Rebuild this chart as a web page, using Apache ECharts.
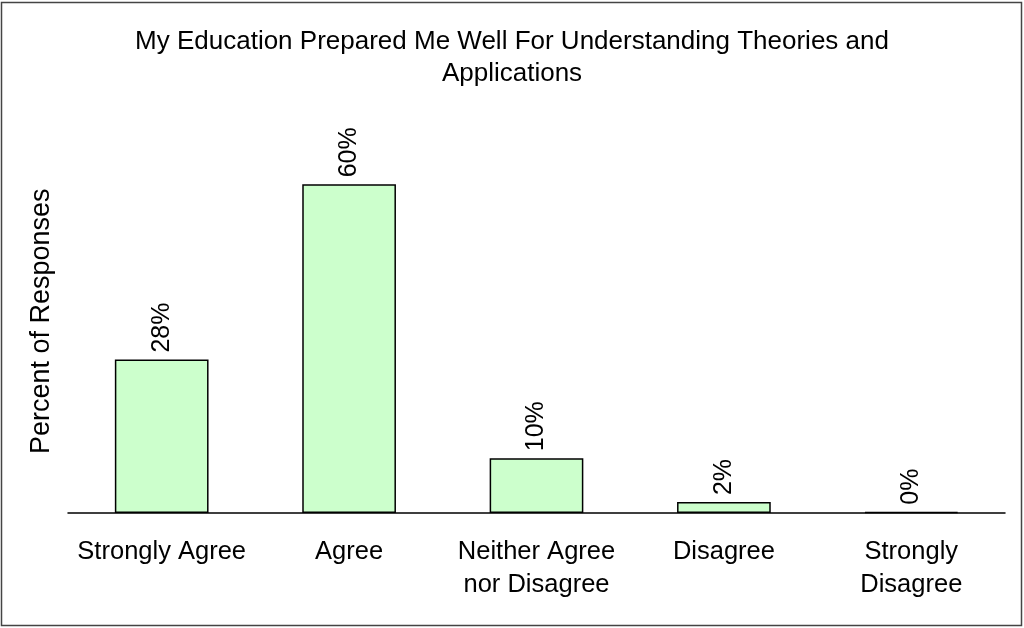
<!DOCTYPE html>
<html><head><meta charset="utf-8">
<script src="https://cdn.jsdelivr.net/npm/echarts@6/dist/echarts.min.js"></script>
<style>html,body{margin:0;padding:0;background:#fff}#c{width:1024px;height:628px}</style>
</head><body><div id="c"></div>
<script>
const titleText = 'My Education Prepared Me Well For Understanding Theories and\nApplications';
const categories = ['Strongly Agree', 'Agree', 'Neither Agree\nnor Disagree', 'Disagree', 'Strongly\nDisagree'];
const values = [28, 60, 10, 2, 0];
const yAxisName = 'Percent of Responses';

const chart = echarts.init(document.getElementById('c'), null, {renderer: 'canvas'});
const font = 'Liberation Sans, Arial, sans-serif';
chart.setOption({
  animation: false,
  backgroundColor: '#fff',
  graphic: [{type: 'rect', shape: {x: 1.5, y: 2.5, width: 1020, height: 623}, style: {fill: 'none', stroke: '#444', lineWidth: 1.5}, silent: true}],
  title: {text: titleText, left: 'center', top: 21, textStyle: {fontFamily: font, fontSize: 26, fontWeight: 'normal', color: '#000', lineHeight: 32}},
  grid: {left: 68, right: 19, top: 129.5, bottom: 115, containLabel: false},
  xAxis: {type: 'category', data: categories,
    axisLine: {show: true, lineStyle: {color: '#000', width: 1.5}},
    axisTick: {show: false},
    axisLabel: {interval: 0, fontFamily: font, fontSize: 25.5, color: '#000', lineHeight: 33, margin: 22}},
  yAxis: {type: 'value', min: 0, max: 70, name: yAxisName, nameLocation: 'middle', nameRotate: 90, nameGap: 13,
    nameTextStyle: {fontFamily: font, fontSize: 27, color: '#000'},
    axisLine: {show: false}, axisTick: {show: false}, axisLabel: {show: false}, splitLine: {show: false}},
  series: [{type: 'bar', data: values, barWidth: '50%', barMinHeight: 1,
    itemStyle: {color: '#CCFFCC', borderColor: '#000', borderWidth: 1.5},
    label: {show: true, position: 'top', rotate: 90, align: 'left', verticalAlign: 'middle', distance: 7, formatter: p => p.value + '%',
      fontFamily: font, fontSize: 25, color: '#000'}}]
});
</script></body></html>
